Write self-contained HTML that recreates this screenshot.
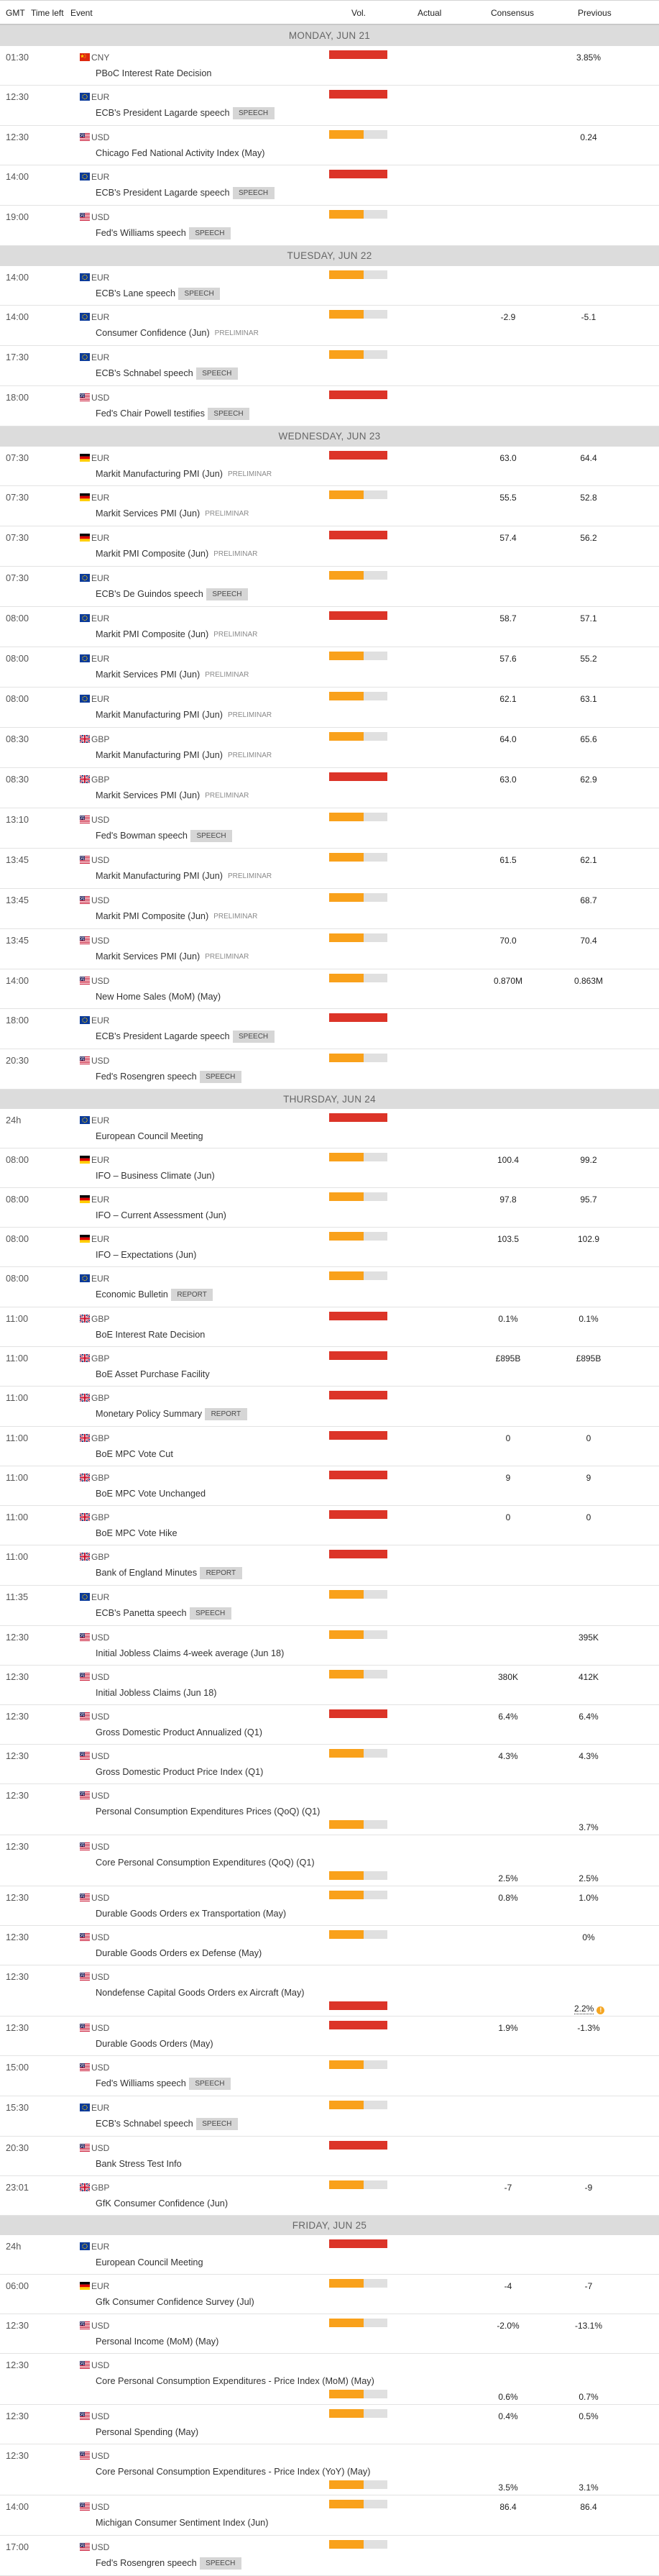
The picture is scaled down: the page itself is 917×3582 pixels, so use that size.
<!DOCTYPE html>
<html><head><meta charset="utf-8"><title>Economic Calendar</title>
<style>
html,body{margin:0;padding:0;background:#fff}
body{width:917px;height:3580px;overflow:hidden;font-family:"Liberation Sans",Arial,sans-serif;color:#333}
.hd{position:relative;height:35px;box-sizing:border-box;border-top:1px solid #d4d4d4;border-bottom:2px solid #c9c9c9}
.hd span{position:absolute;top:9px;line-height:16px;font-size:12px;color:#222}
.d{height:28px;background:#dcdcdc;text-align:center;line-height:28px;font-size:13.5px;color:#666;letter-spacing:.3px}
.d.h29{height:29px;line-height:29px}
.d.h27{height:27px;line-height:27px}
.r{position:relative;height:55px;border-bottom:1px solid #e3e3e3;box-sizing:border-box}
.r.k{height:56px}
.r.w{height:71px}
.r.s{height:54px}
.t{position:absolute;left:8px;top:8px;line-height:16px;font-size:12.8px;color:#555}
.f{position:absolute;left:111px;top:10px;width:14px;height:11px}
.c{position:absolute;left:127px;top:8px;line-height:17px;font-size:12px;color:#555}
.e{position:absolute;left:133px;top:30px;height:17px;line-height:17px;font-size:12.7px;color:#333;white-space:nowrap;display:flex}
.g{display:inline-block;margin-left:4px;padding:0 8.5px;background:#d6d6d6;color:#4a4a4a;font-size:10px;font-weight:normal;line-height:17px;height:17px}
.pl{display:inline-block;margin-left:7px;color:#8a8a8a;font-size:10px;font-style:normal;line-height:18px}
.b{position:absolute;left:458px;top:6px;width:81px;height:12px;background:#e0e0e0}
.b.red{background:#dc3428}
.b.or::before{content:"";position:absolute;left:0;top:0;width:48px;height:12px;background:#f9a11b}
.r.w .b{top:50px}
.a,.cs,.p{position:absolute;top:8px;line-height:16px;width:100px;text-align:center;font-size:12px;color:#222}
.a{left:547px}.cs{left:657px}.p{left:769px}
.r.w .a,.r.w .cs,.r.w .p{top:52px}
.rev{position:absolute;left:799px;top:52px;line-height:16px;font-size:12px;color:#222;white-space:nowrap}
.rev u{text-decoration:none;border-bottom:1px dotted #333}
.rev i{display:inline-block;width:11px;height:11px;border-radius:50%;background:#f5a623;color:#fff;font-size:9px;line-height:11px;text-align:center;font-style:normal;font-weight:bold;margin-left:4px;vertical-align:-1px}
</style></head><body>
<svg width="0" height="0" style="position:absolute">
<defs>
<symbol id="us" viewBox="0 0 14 11"><rect width="14" height="11" fill="#fff"/><g fill="#c8102e"><rect y="0" width="14" height="1"/><rect y="2" width="14" height="1"/><rect y="4" width="14" height="1"/><rect y="6" width="14" height="1"/><rect y="8" width="14" height="1"/><rect y="10" width="14" height="1"/></g><rect width="7" height="6" fill="#3c3b6e"/><g fill="#fff"><rect x="1" y="1" width="1" height="1"/><rect x="3" y="1" width="1" height="1"/><rect x="5" y="1" width="1" height="1"/><rect x="2" y="3" width="1" height="1"/><rect x="4" y="3" width="1" height="1"/><rect x="1" y="4.5" width="1" height="1"/><rect x="5" y="4.5" width="1" height="1"/></g></symbol>
<symbol id="eu" viewBox="0 0 14 11"><rect width="14" height="11" fill="#0a3a9a"/><circle cx="7" cy="5.5" r="3.2" fill="none" stroke="#ffcc00" stroke-width="1" stroke-dasharray="1 0.7"/></symbol>
<symbol id="de" viewBox="0 0 14 11"><rect width="14" height="3.7" fill="#000"/><rect y="3.67" width="14" height="3.7" fill="#dd0000"/><rect y="7.33" width="14" height="3.67" fill="#ffce00"/></symbol>
<symbol id="gb" viewBox="0 0 14 11"><rect width="14" height="11" fill="#012169"/><path d="M0 0L14 11M14 0L0 11" stroke="#fff" stroke-width="2.4"/><path d="M0 0L14 11M14 0L0 11" stroke="#c8102e" stroke-width="0.9"/><path d="M7 0V11M0 5.5H14" stroke="#fff" stroke-width="3.6"/><path d="M7 0V11M0 5.5H14" stroke="#c8102e" stroke-width="2"/></symbol>
<symbol id="cn" viewBox="0 0 14 11"><rect width="14" height="11" fill="#de2910"/><polygon points="3.5,1.2 4.2,3.2 6.2,3.2 4.6,4.4 5.2,6.3 3.5,5.1 1.8,6.3 2.4,4.4 0.8,3.2 2.8,3.2" fill="#ffde00"/><circle cx="7" cy="1.8" r="0.5" fill="#ffde00"/><circle cx="8" cy="3.2" r="0.5" fill="#ffde00"/><circle cx="8" cy="5" r="0.5" fill="#ffde00"/><circle cx="7" cy="6.3" r="0.5" fill="#ffde00"/></symbol>
</defs></svg>

<div class="hd">
<span style="left:8px">GMT</span><span style="left:43px">Time left</span><span style="left:98px">Event</span><span style="left:489px">Vol.</span><span style="left:581px">Actual</span><span style="left:683px">Consensus</span><span style="left:804px">Previous</span>
</div>

<div class="d h29">MONDAY, JUN 21</div>
<div class="r"><span class="t">01:30</span><svg class="f"><use href="#cn"/></svg><span class="c">CNY</span><div class="e">PBoC Interest Rate Decision</div><i class="b red"></i><span class="p">3.85%</span></div>
<div class="r k"><span class="t">12:30</span><svg class="f"><use href="#eu"/></svg><span class="c">EUR</span><div class="e">ECB's President Lagarde speech<b class="g">SPEECH</b></div><i class="b red"></i></div>
<div class="r"><span class="t">12:30</span><svg class="f"><use href="#us"/></svg><span class="c">USD</span><div class="e">Chicago Fed National Activity Index (May)</div><i class="b or"></i><span class="p">0.24</span></div>
<div class="r k"><span class="t">14:00</span><svg class="f"><use href="#eu"/></svg><span class="c">EUR</span><div class="e">ECB's President Lagarde speech<b class="g">SPEECH</b></div><i class="b red"></i></div>
<div class="r k"><span class="t">19:00</span><svg class="f"><use href="#us"/></svg><span class="c">USD</span><div class="e">Fed's Williams speech<b class="g">SPEECH</b></div><i class="b or"></i></div>

<div class="d">TUESDAY, JUN 22</div>
<div class="r"><span class="t">14:00</span><svg class="f"><use href="#eu"/></svg><span class="c">EUR</span><div class="e">ECB's Lane speech<b class="g">SPEECH</b></div><i class="b or"></i></div>
<div class="r k"><span class="t">14:00</span><svg class="f"><use href="#eu"/></svg><span class="c">EUR</span><div class="e">Consumer Confidence (Jun)<em class="pl">PRELIMINAR</em></div><i class="b or"></i><span class="cs">-2.9</span><span class="p">-5.1</span></div>
<div class="r k"><span class="t">17:30</span><svg class="f"><use href="#eu"/></svg><span class="c">EUR</span><div class="e">ECB's Schnabel speech<b class="g">SPEECH</b></div><i class="b or"></i></div>
<div class="r k"><span class="t">18:00</span><svg class="f"><use href="#us"/></svg><span class="c">USD</span><div class="e">Fed's Chair Powell testifies<b class="g">SPEECH</b></div><i class="b red"></i></div>

<div class="d">WEDNESDAY, JUN 23</div>
<div class="r"><span class="t">07:30</span><svg class="f"><use href="#de"/></svg><span class="c">EUR</span><div class="e">Markit Manufacturing PMI (Jun)<em class="pl">PRELIMINAR</em></div><i class="b red"></i><span class="cs">63.0</span><span class="p">64.4</span></div>
<div class="r k"><span class="t">07:30</span><svg class="f"><use href="#de"/></svg><span class="c">EUR</span><div class="e">Markit Services PMI (Jun)<em class="pl">PRELIMINAR</em></div><i class="b or"></i><span class="cs">55.5</span><span class="p">52.8</span></div>
<div class="r k"><span class="t">07:30</span><svg class="f"><use href="#de"/></svg><span class="c">EUR</span><div class="e">Markit PMI Composite (Jun)<em class="pl">PRELIMINAR</em></div><i class="b red"></i><span class="cs">57.4</span><span class="p">56.2</span></div>
<div class="r k"><span class="t">07:30</span><svg class="f"><use href="#eu"/></svg><span class="c">EUR</span><div class="e">ECB's De Guindos speech<b class="g">SPEECH</b></div><i class="b or"></i></div>
<div class="r k"><span class="t">08:00</span><svg class="f"><use href="#eu"/></svg><span class="c">EUR</span><div class="e">Markit PMI Composite (Jun)<em class="pl">PRELIMINAR</em></div><i class="b red"></i><span class="cs">58.7</span><span class="p">57.1</span></div>
<div class="r k"><span class="t">08:00</span><svg class="f"><use href="#eu"/></svg><span class="c">EUR</span><div class="e">Markit Services PMI (Jun)<em class="pl">PRELIMINAR</em></div><i class="b or"></i><span class="cs">57.6</span><span class="p">55.2</span></div>
<div class="r k"><span class="t">08:00</span><svg class="f"><use href="#eu"/></svg><span class="c">EUR</span><div class="e">Markit Manufacturing PMI (Jun)<em class="pl">PRELIMINAR</em></div><i class="b or"></i><span class="cs">62.1</span><span class="p">63.1</span></div>
<div class="r k"><span class="t">08:30</span><svg class="f"><use href="#gb"/></svg><span class="c">GBP</span><div class="e">Markit Manufacturing PMI (Jun)<em class="pl">PRELIMINAR</em></div><i class="b or"></i><span class="cs">64.0</span><span class="p">65.6</span></div>
<div class="r k"><span class="t">08:30</span><svg class="f"><use href="#gb"/></svg><span class="c">GBP</span><div class="e">Markit Services PMI (Jun)<em class="pl">PRELIMINAR</em></div><i class="b red"></i><span class="cs">63.0</span><span class="p">62.9</span></div>
<div class="r k"><span class="t">13:10</span><svg class="f"><use href="#us"/></svg><span class="c">USD</span><div class="e">Fed's Bowman speech<b class="g">SPEECH</b></div><i class="b or"></i></div>
<div class="r k"><span class="t">13:45</span><svg class="f"><use href="#us"/></svg><span class="c">USD</span><div class="e">Markit Manufacturing PMI (Jun)<em class="pl">PRELIMINAR</em></div><i class="b or"></i><span class="cs">61.5</span><span class="p">62.1</span></div>
<div class="r k"><span class="t">13:45</span><svg class="f"><use href="#us"/></svg><span class="c">USD</span><div class="e">Markit PMI Composite (Jun)<em class="pl">PRELIMINAR</em></div><i class="b or"></i><span class="p">68.7</span></div>
<div class="r k"><span class="t">13:45</span><svg class="f"><use href="#us"/></svg><span class="c">USD</span><div class="e">Markit Services PMI (Jun)<em class="pl">PRELIMINAR</em></div><i class="b or"></i><span class="cs">70.0</span><span class="p">70.4</span></div>
<div class="r"><span class="t">14:00</span><svg class="f"><use href="#us"/></svg><span class="c">USD</span><div class="e">New Home Sales (MoM) (May)</div><i class="b or"></i><span class="cs">0.870M</span><span class="p">0.863M</span></div>
<div class="r k"><span class="t">18:00</span><svg class="f"><use href="#eu"/></svg><span class="c">EUR</span><div class="e">ECB's President Lagarde speech<b class="g">SPEECH</b></div><i class="b red"></i></div>
<div class="r k"><span class="t">20:30</span><svg class="f"><use href="#us"/></svg><span class="c">USD</span><div class="e">Fed's Rosengren speech<b class="g">SPEECH</b></div><i class="b or"></i></div>

<div class="d h27">THURSDAY, JUN 24</div>
<div class="r"><span class="t">24h</span><svg class="f"><use href="#eu"/></svg><span class="c">EUR</span><div class="e">European Council Meeting</div><i class="b red"></i></div>
<div class="r"><span class="t">08:00</span><svg class="f"><use href="#de"/></svg><span class="c">EUR</span><div class="e">IFO – Business Climate (Jun)</div><i class="b or"></i><span class="cs">100.4</span><span class="p">99.2</span></div>
<div class="r"><span class="t">08:00</span><svg class="f"><use href="#de"/></svg><span class="c">EUR</span><div class="e">IFO – Current Assessment (Jun)</div><i class="b or"></i><span class="cs">97.8</span><span class="p">95.7</span></div>
<div class="r"><span class="t">08:00</span><svg class="f"><use href="#de"/></svg><span class="c">EUR</span><div class="e">IFO – Expectations (Jun)</div><i class="b or"></i><span class="cs">103.5</span><span class="p">102.9</span></div>
<div class="r k"><span class="t">08:00</span><svg class="f"><use href="#eu"/></svg><span class="c">EUR</span><div class="e">Economic Bulletin<b class="g">REPORT</b></div><i class="b or"></i></div>
<div class="r"><span class="t">11:00</span><svg class="f"><use href="#gb"/></svg><span class="c">GBP</span><div class="e">BoE Interest Rate Decision</div><i class="b red"></i><span class="cs">0.1%</span><span class="p">0.1%</span></div>
<div class="r"><span class="t">11:00</span><svg class="f"><use href="#gb"/></svg><span class="c">GBP</span><div class="e">BoE Asset Purchase Facility</div><i class="b red"></i><span class="cs">£895B</span><span class="p">£895B</span></div>
<div class="r k"><span class="t">11:00</span><svg class="f"><use href="#gb"/></svg><span class="c">GBP</span><div class="e">Monetary Policy Summary<b class="g">REPORT</b></div><i class="b red"></i></div>
<div class="r"><span class="t">11:00</span><svg class="f"><use href="#gb"/></svg><span class="c">GBP</span><div class="e">BoE MPC Vote Cut</div><i class="b red"></i><span class="cs">0</span><span class="p">0</span></div>
<div class="r"><span class="t">11:00</span><svg class="f"><use href="#gb"/></svg><span class="c">GBP</span><div class="e">BoE MPC Vote Unchanged</div><i class="b red"></i><span class="cs">9</span><span class="p">9</span></div>
<div class="r"><span class="t">11:00</span><svg class="f"><use href="#gb"/></svg><span class="c">GBP</span><div class="e">BoE MPC Vote Hike</div><i class="b red"></i><span class="cs">0</span><span class="p">0</span></div>
<div class="r k"><span class="t">11:00</span><svg class="f"><use href="#gb"/></svg><span class="c">GBP</span><div class="e">Bank of England Minutes<b class="g">REPORT</b></div><i class="b red"></i></div>
<div class="r k"><span class="t">11:35</span><svg class="f"><use href="#eu"/></svg><span class="c">EUR</span><div class="e">ECB's Panetta speech<b class="g">SPEECH</b></div><i class="b or"></i></div>
<div class="r"><span class="t">12:30</span><svg class="f"><use href="#us"/></svg><span class="c">USD</span><div class="e">Initial Jobless Claims 4-week average (Jun 18)</div><i class="b or"></i><span class="p">395K</span></div>
<div class="r"><span class="t">12:30</span><svg class="f"><use href="#us"/></svg><span class="c">USD</span><div class="e">Initial Jobless Claims (Jun 18)</div><i class="b or"></i><span class="cs">380K</span><span class="p">412K</span></div>
<div class="r"><span class="t">12:30</span><svg class="f"><use href="#us"/></svg><span class="c">USD</span><div class="e">Gross Domestic Product Annualized (Q1)</div><i class="b red"></i><span class="cs">6.4%</span><span class="p">6.4%</span></div>
<div class="r"><span class="t">12:30</span><svg class="f"><use href="#us"/></svg><span class="c">USD</span><div class="e">Gross Domestic Product Price Index (Q1)</div><i class="b or"></i><span class="cs">4.3%</span><span class="p">4.3%</span></div>
<div class="r w"><span class="t">12:30</span><svg class="f"><use href="#us"/></svg><span class="c">USD</span><div class="e">Personal Consumption Expenditures Prices (QoQ) (Q1)</div><i class="b or"></i><span class="p">3.7%</span></div>
<div class="r w"><span class="t">12:30</span><svg class="f"><use href="#us"/></svg><span class="c">USD</span><div class="e">Core Personal Consumption Expenditures (QoQ) (Q1)</div><i class="b or"></i><span class="cs">2.5%</span><span class="p">2.5%</span></div>
<div class="r"><span class="t">12:30</span><svg class="f"><use href="#us"/></svg><span class="c">USD</span><div class="e">Durable Goods Orders ex Transportation (May)</div><i class="b or"></i><span class="cs">0.8%</span><span class="p">1.0%</span></div>
<div class="r"><span class="t">12:30</span><svg class="f"><use href="#us"/></svg><span class="c">USD</span><div class="e">Durable Goods Orders ex Defense (May)</div><i class="b or"></i><span class="p">0%</span></div>
<div class="r w"><span class="t">12:30</span><svg class="f"><use href="#us"/></svg><span class="c">USD</span><div class="e">Nondefense Capital Goods Orders ex Aircraft (May)</div><i class="b red"></i><span class="rev"><u>2.2%</u><i>!</i></span></div>
<div class="r"><span class="t">12:30</span><svg class="f"><use href="#us"/></svg><span class="c">USD</span><div class="e">Durable Goods Orders (May)</div><i class="b red"></i><span class="cs">1.9%</span><span class="p">-1.3%</span></div>
<div class="r k"><span class="t">15:00</span><svg class="f"><use href="#us"/></svg><span class="c">USD</span><div class="e">Fed's Williams speech<b class="g">SPEECH</b></div><i class="b or"></i></div>
<div class="r k"><span class="t">15:30</span><svg class="f"><use href="#eu"/></svg><span class="c">EUR</span><div class="e">ECB's Schnabel speech<b class="g">SPEECH</b></div><i class="b or"></i></div>
<div class="r"><span class="t">20:30</span><svg class="f"><use href="#us"/></svg><span class="c">USD</span><div class="e">Bank Stress Test Info</div><i class="b red"></i></div>
<div class="r"><span class="t">23:01</span><svg class="f"><use href="#gb"/></svg><span class="c">GBP</span><div class="e">GfK Consumer Confidence (Jun)</div><i class="b or"></i><span class="cs">-7</span><span class="p">-9</span></div>

<div class="d h27">FRIDAY, JUN 25</div>
<div class="r"><span class="t">24h</span><svg class="f"><use href="#eu"/></svg><span class="c">EUR</span><div class="e">European Council Meeting</div><i class="b red"></i></div>
<div class="r"><span class="t">06:00</span><svg class="f"><use href="#de"/></svg><span class="c">EUR</span><div class="e">Gfk Consumer Confidence Survey (Jul)</div><i class="b or"></i><span class="cs">-4</span><span class="p">-7</span></div>
<div class="r"><span class="t">12:30</span><svg class="f"><use href="#us"/></svg><span class="c">USD</span><div class="e">Personal Income (MoM) (May)</div><i class="b or"></i><span class="cs">-2.0%</span><span class="p">-13.1%</span></div>
<div class="r w"><span class="t">12:30</span><svg class="f"><use href="#us"/></svg><span class="c">USD</span><div class="e">Core Personal Consumption Expenditures - Price Index (MoM) (May)</div><i class="b or"></i><span class="cs">0.6%</span><span class="p">0.7%</span></div>
<div class="r"><span class="t">12:30</span><svg class="f"><use href="#us"/></svg><span class="c">USD</span><div class="e">Personal Spending (May)</div><i class="b or"></i><span class="cs">0.4%</span><span class="p">0.5%</span></div>
<div class="r w"><span class="t">12:30</span><svg class="f"><use href="#us"/></svg><span class="c">USD</span><div class="e">Core Personal Consumption Expenditures - Price Index (YoY) (May)</div><i class="b or"></i><span class="cs">3.5%</span><span class="p">3.1%</span></div>
<div class="r k"><span class="t">14:00</span><svg class="f"><use href="#us"/></svg><span class="c">USD</span><div class="e">Michigan Consumer Sentiment Index (Jun)</div><i class="b or"></i><span class="cs">86.4</span><span class="p">86.4</span></div>
<div class="r k"><span class="t">17:00</span><svg class="f"><use href="#us"/></svg><span class="c">USD</span><div class="e">Fed's Rosengren speech<b class="g">SPEECH</b></div><i class="b or"></i></div>
</body></html>
